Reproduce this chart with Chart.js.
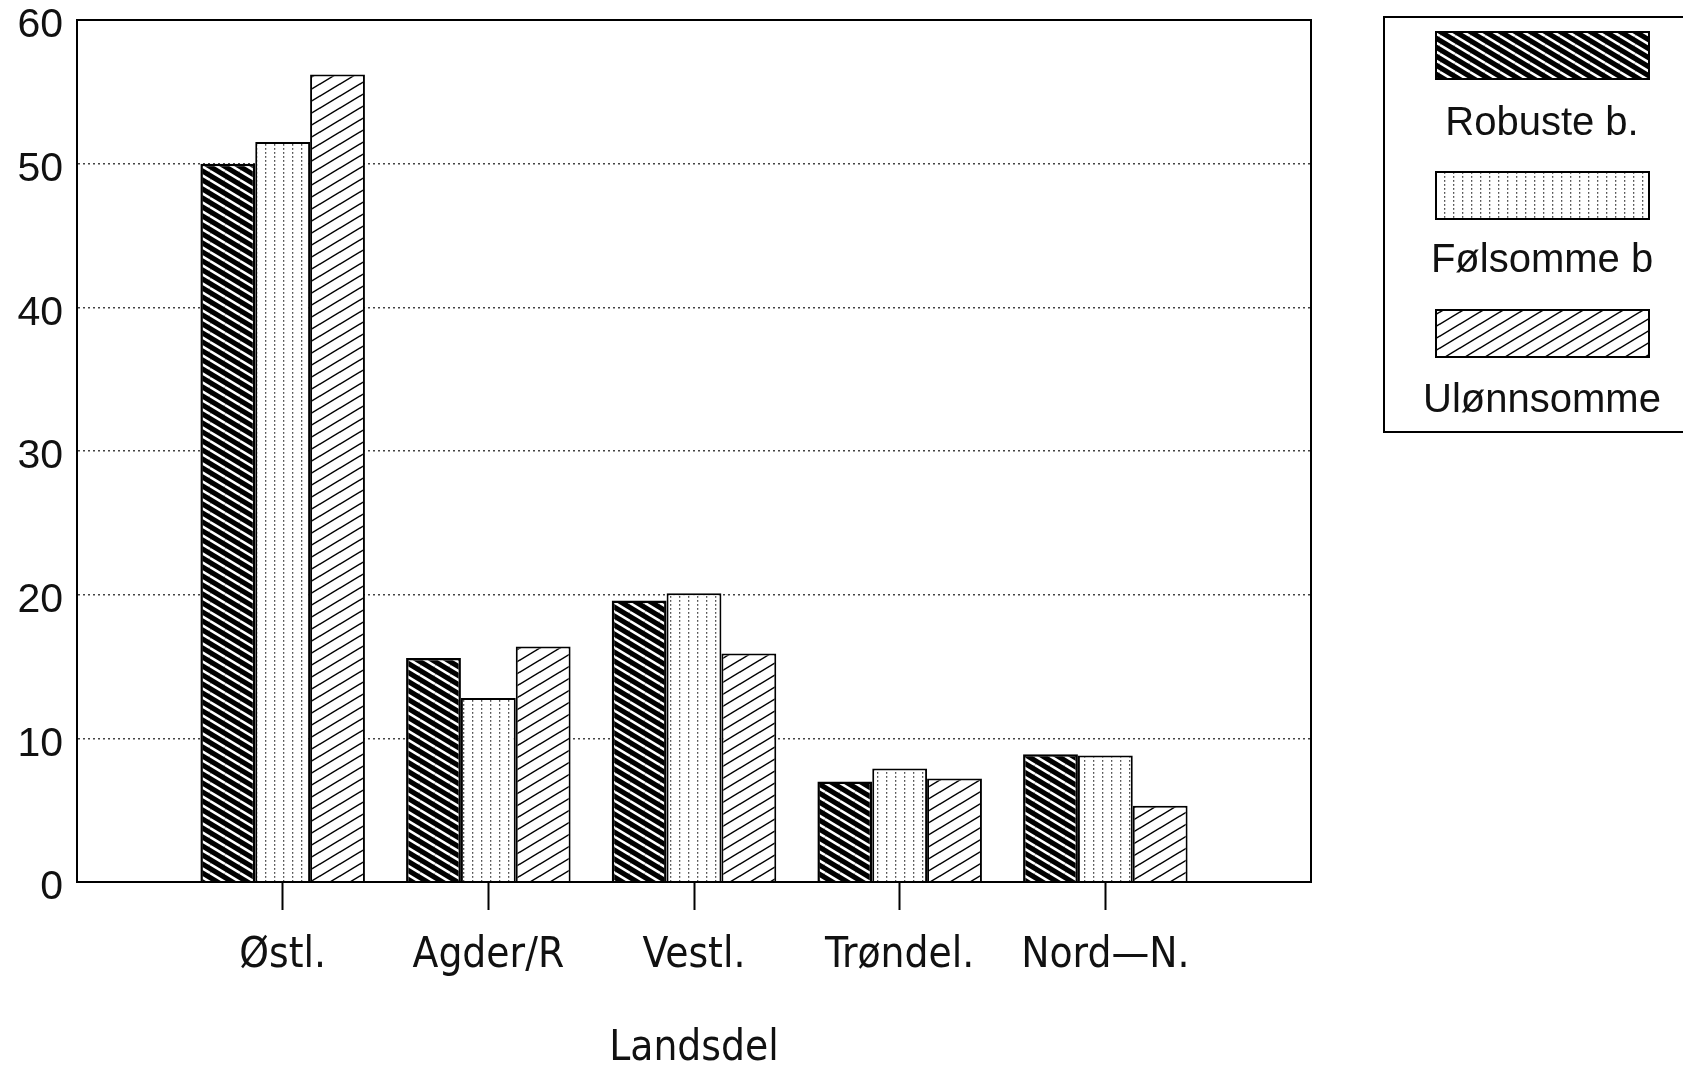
<!DOCTYPE html>
<html>
<head>
<meta charset="utf-8">
<script src="https://cdn.jsdelivr.net/npm/chart.js@4.4.1/dist/chart.umd.min.js"></script>
<style>
  html, body { margin: 0; padding: 0; background: #fff; }
  #wrap { width: 1683px; height: 1067px; }
</style>
</head>
<body>
<div id="wrap"><canvas id="c" width="1683" height="1067"></canvas></div>
<script>
// ---- data ----
const categories = ['Østl.', 'Agder/R', 'Vestl.', 'Trøndel.', 'Nord\u2014N.'];
const seriesNames = ['Robuste b.', 'Følsomme b', 'Ulønnsomme'];
const robuste    = [50.0, 15.6, 19.6, 7.0, 8.9];
const folsomme   = [51.5, 12.8, 20.1, 7.9, 8.8];
const ulonnsomme = [56.2, 16.4, 15.9, 7.2, 5.3];
const yTicks = [0, 10, 20, 30, 40, 50, 60];
const xTitle = 'Landsdel';

// ---- hatch patterns ----
function makeTile(w, h, draw) {
  const c = document.createElement('canvas');
  c.width = w; c.height = h;
  const g = c.getContext('2d');
  draw(g, w, h);
  return document.getElementById('c').getContext('2d').createPattern(c, 'repeat');
}
function diagLines(g, w, h, down) {
  for (let dx = -1; dx <= 1; dx++) {
    for (let dy = -1; dy <= 1; dy++) {
      g.beginPath();
      if (down) { g.moveTo(dx * w, dy * h); g.lineTo(dx * w + w, dy * h + h); }
      else { g.moveTo(dx * w, dy * h + h); g.lineTo(dx * w + w, dy * h); }
      g.stroke();
    }
  }
}
const patRobuste = makeTile(15, 9, (g, w, h) => {
  g.fillStyle = '#000'; g.fillRect(0, 0, w, h);
  g.strokeStyle = '#fff'; g.lineWidth = 2.6;
  diagLines(g, w, h, true);
});
const patFolsomme = makeTile(9, 4, (g, w, h) => {
  g.fillStyle = '#fff'; g.fillRect(0, 0, w, h);
  g.fillStyle = '#555'; g.fillRect(4, 0, 1.3, 1.8);
});
const patUlonnsomme = makeTile(20, 12, (g, w, h) => {
  g.fillStyle = '#fff'; g.fillRect(0, 0, w, h);
  g.strokeStyle = '#000'; g.lineWidth = 1.5;
  diagLines(g, w, h, false);
});

// pad categories with empty slots at both ends (half-category margins)
const labels = [''].concat(categories, ['']);
const pad = arr => [null].concat(arr, [null]);

const FONT = "'Liberation Sans', Arial, sans-serif";
const NARROW = "'Liberation Sans Narrow', 'DejaVu Sans Condensed', 'Liberation Sans', sans-serif";

const framePlugin = {
  id: 'frame',
  afterDraw(chart) {
    const {ctx, chartArea: a} = chart;
    ctx.save();
    ctx.strokeStyle = '#000';
    ctx.lineWidth = 2;
    ctx.strokeRect(a.left, a.top, a.right - a.left, a.bottom - a.top);
    ctx.restore();
  }
};

const legendPlugin = {
  id: 'stackLegend',
  afterDraw(chart) {
    const ctx = chart.ctx;
    ctx.save();
    ctx.strokeStyle = '#000';
    ctx.lineWidth = 2;
    ctx.strokeRect(1384, 17, 400, 415);
    const swTop = [32, 172, 310];
    const txtBase = [135, 272, 412];
    chart.data.datasets.forEach((ds, i) => {
      ctx.fillStyle = ds.backgroundColor;
      ctx.fillRect(1436, swTop[i], 213, 47);
      ctx.lineWidth = 2;
      ctx.strokeStyle = '#000';
      ctx.strokeRect(1436, swTop[i], 213, 47);
      ctx.fillStyle = '#111';
      ctx.font = "40px " + FONT;
      ctx.textAlign = 'center';
      ctx.textBaseline = 'alphabetic';
      ctx.fillText(ds.label, 1542, txtBase[i]);
    });
    ctx.restore();
  }
};

new Chart(document.getElementById('c'), {
  type: 'bar',
  data: {
    labels: labels,
    datasets: [
      { label: seriesNames[0], data: pad(robuste),    backgroundColor: patRobuste,    borderColor: '#000', borderWidth: 2.5 },
      { label: seriesNames[1], data: pad(folsomme),   backgroundColor: patFolsomme,   borderColor: '#000', borderWidth: 2 },
      { label: seriesNames[2], data: pad(ulonnsomme), backgroundColor: patUlonnsomme, borderColor: '#000', borderWidth: 2 }
    ]
  },
  options: {
    responsive: false,
    animation: false,
    devicePixelRatio: 1,
    layout: { padding: { left: 0, top: 20, right: 372, bottom: 0 } },
    datasets: { bar: { categoryPercentage: 0.8, barPercentage: 1.0 } },
    plugins: {
      legend: { display: false },
      tooltip: { enabled: false },
      title: { display: false }
    },
    scales: {
      x: {
        offset: false,
        afterFit(s) { s.height = 185; s.paddingLeft = 0; s.paddingRight = 0; },
        grid: {
          offset: false,
          display: true,
          drawOnChartArea: false,
          drawTicks: true,
          tickLength: 28,
          tickWidth: 2,
          tickColor: ctx => (ctx.index === 0 || ctx.index === labels.length - 1) ? 'rgba(0,0,0,0)' : '#000'
        },
        border: { display: true, color: '#000', width: 2 },
        ticks: {
          autoSkip: false, maxRotation: 0, minRotation: 0,
          padding: 21,
          color: '#111',
          font: { family: NARROW, size: 42 }
        },
        title: {
          display: true, text: xTitle, color: '#111',
          font: { family: NARROW, size: 42, lineHeight: 0.85 },
          padding: { top: 0, bottom: 0 }
        }
      },
      y: {
        min: yTicks[0], max: yTicks[yTicks.length - 1],
        afterFit(s) { s.width = 77; s.paddingTop = 0; s.paddingBottom = 0; },
        afterBuildTicks(s) { s.ticks = yTicks.map(v => ({ value: v })); },
        grid: {
          drawTicks: false,
          lineWidth: 1.5,
          color: ctx => (ctx.tick && (ctx.tick.value === yTicks[0] || ctx.tick.value === yTicks[yTicks.length - 1])) ? 'rgba(0,0,0,0)' : '#444'
        },
        border: { display: true, color: '#000', width: 2, dash: [2, 3] },
        ticks: {
          padding: 14,
          labelOffset: 6,
          color: '#111',
          font: { family: FONT, size: 41 }
        }
      }
    }
  },
  plugins: [framePlugin, legendPlugin]
});
</script>
</body>
</html>
